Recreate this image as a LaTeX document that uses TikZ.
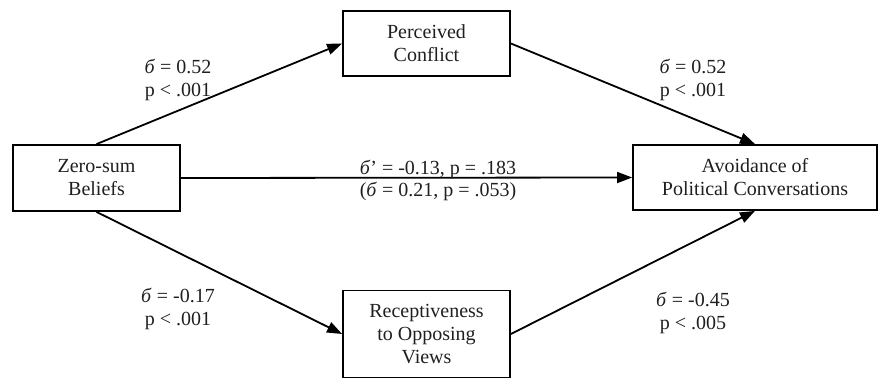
\documentclass[tikz,border=0pt]{standalone}
\usepackage{fontspec}
\setmainfont{Liberation Serif}
\usetikzlibrary{arrows.meta}
\tikzset{
  boxnode/.style={draw=black, line width=1.8pt, align=center, inner sep=0pt,
    font=\fontsize{20}{23}\selectfont, text=black!88},
  lbl/.style={align=center, inner sep=0pt, font=\fontsize{20}{23}\selectfont, text=black!88},
  arr/.style={line width=1.8pt, -{Triangle[length=15pt,width=11pt]}},
}
\newcommand{\bet}{\textit{б}}
\begin{document}
\begin{tikzpicture}[x=1pt,y=1pt]
\useasboundingbox (0,0) rectangle (880,-387);
\node[boxnode, minimum width=167pt, minimum height=66pt] (zero) at (96.5,-178) {Zero-sum\\Beliefs};
\node[boxnode, minimum width=167pt, minimum height=65pt] (perc) at (426.5,-43.5) {Perceived\\Conflict};
\node[boxnode, minimum width=244pt, minimum height=65pt] (avoid) at (755,-177.5) {Avoidance of\\Political Conversations};
\node[boxnode, minimum width=167pt, minimum height=87pt] (recep) at (426.5,-334) {Receptiveness\\to Opposing\\Views};

\draw[arr] (zero.north) -- (perc.west);
\draw[arr] (perc.east) -- (avoid.north);
\draw[arr] (zero.south) -- (recep.west);
\draw[arr] (recep.east) -- (avoid.south);
\draw[arr] (zero.east) -- (avoid.west);

\node[lbl] (l1) at (178,-80) {\bet{} = 0.52\\p < .001};
\node[lbl] (l2) at (693,-80) {\bet{} = 0.52\\p < .001};
\node[lbl] (l3) at (438,-169) {\bet{}’ = -0.13, p = .183};
\node[lbl] (l4) at (438,-191) {(\bet{} = 0.21, p = .053)};
\node[lbl] (l5) at (178,-309) {\bet{} = -0.17\\p < .001};
\node[lbl] (l6) at (693,-313) {\bet{} = -0.45\\p < .005};
\end{tikzpicture}
\end{document}
